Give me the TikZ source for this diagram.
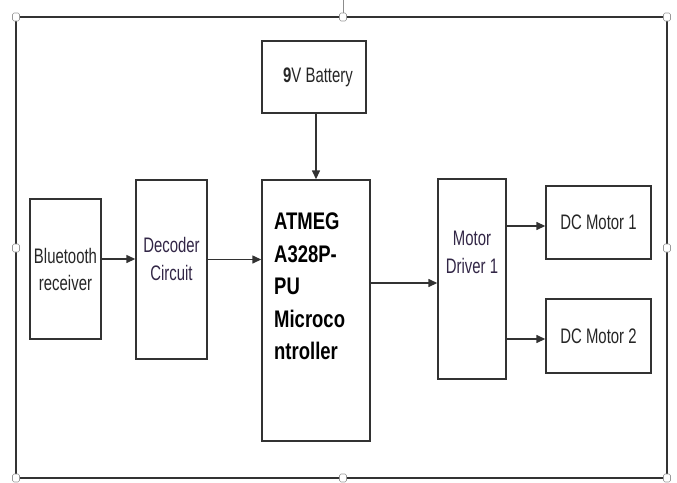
\documentclass[tikz,border=0pt]{standalone}
\usepackage{fontspec}
\setmainfont{Liberation Sans}[FakeStretch=0.71]
\newfontfamily\mcufont{Liberation Sans}[FakeStretch=0.77]
\usepackage{tikz}
\usetikzlibrary{arrows.meta}
\definecolor{linegray}{RGB}{50,50,50}
\definecolor{txtdark}{RGB}{50,38,70}

\begin{document}
\begin{tikzpicture}[x=1pt,y=-1pt,
  blk/.style={draw=linegray,line width=1.4pt,fill=white,inner sep=0pt,
    font=\fontsize{21}{27}\selectfont,align=center,text=black!85},
  txt/.style={inner sep=0pt,font=\fontsize{21}{28}\selectfont,align=center,text=txtdark},
  arr/.style={draw=linegray,line width=1.4pt,-{Triangle[length=9pt,width=8pt]}},
  handle/.style={draw=black!40,fill=white,line width=0.6pt,rounded corners=1.5pt}]
\useasboundingbox (0,0) rectangle (677,482);
% outer frame:
\draw[linegray,line width=2pt] (16,17) rectangle (667,478);
\draw[black!45,line width=0.6pt] (343,0) -- (343,13);
\foreach \hx/\hy in {16/17,343/17,667/17,16/248,667/248,16/478,343/478,667/478}
  \path[handle] (\hx-3.5,\hy-4) rectangle (\hx+3.5,\hy+4);
% blocks:
\node[blk,minimum width=104,minimum height=72] (bat) at (314,77) {\hspace{8pt}{\bfseries 9}V Battery};
\node[blk,minimum width=71,minimum height=140] (bt) at (65.5,269) {Bluetooth\\receiver};
\node[blk,minimum width=71,minimum height=179] (dec) at (171.5,269.5) {};
\node[txt] (dectext) at (171.5,259) {Decoder\\Circuit};
\node[blk,minimum width=108,minimum height=261] (mcu) at (316,310.5) {};
\node[inner sep=0pt,anchor=north west,align=left,
  font=\mcufont\fontsize{24}{32.5}\selectfont\bfseries,text=black]
  (mcutext) at (274,213) {ATMEG\\A328P-\\PU\\Microco\\ntroller};
\node[blk,minimum width=68,minimum height=200] (drv) at (472,279) {};
\node[txt] (drvtext) at (472,252) {Motor\\Driver 1};
\node[blk,minimum width=105,minimum height=73] (mota) at (598.5,222.5) {DC Motor 1};
\node[blk,minimum width=105,minimum height=74] (motb) at (598.5,336) {DC Motor 2};
% connectors:
\draw[arr] (bat.south -| mcu.north) -- (mcu.north);
\draw[arr] ([yshift=10pt]bt.east) -- ([yshift=10pt]bt.east -| dec.west);
\draw[arr] ([yshift=10pt]dec.east) -- ([yshift=10pt]dec.east -| mcu.west);
\draw[arr] ([yshift=27.5pt]mcu.east) -- ([yshift=27.5pt]mcu.east -| drv.west);
\draw[arr] ([yshift=-3.5pt]mota.west -| drv.east) -- ([yshift=-3.5pt]mota.west);
\draw[arr] ([yshift=-3pt]motb.west -| drv.east) -- ([yshift=-3pt]motb.west);
\end{tikzpicture}
\end{document}
